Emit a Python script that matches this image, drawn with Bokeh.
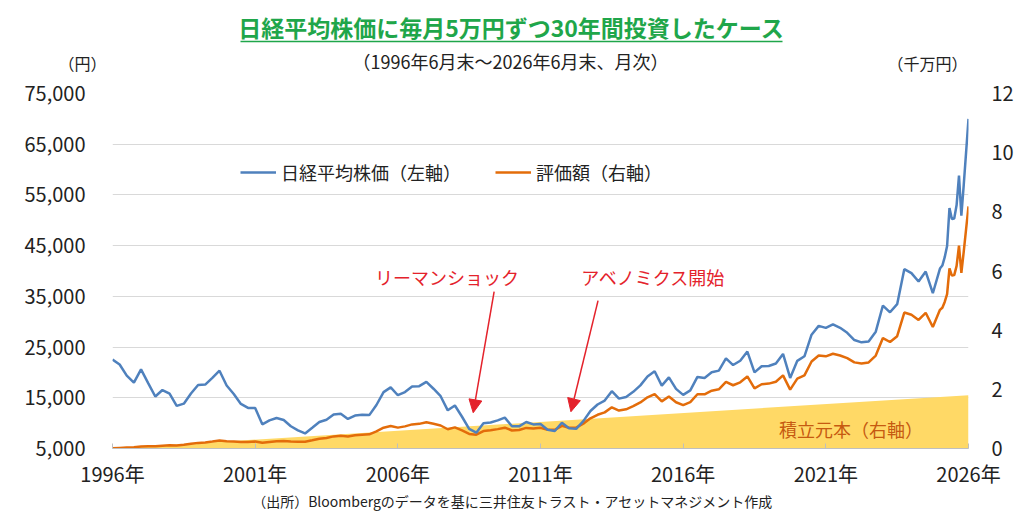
from bokeh.plotting import figure
from bokeh.layouts import column
from bokeh.models import (Range1d, LinearAxis, Legend, LegendItem, Label, Arrow,
                          NormalHead, FixedTicker, NumeralTickFormatter)
from bokeh.embed import file_html
from bokeh.resources import INLINE

FONT = "Noto Sans CJK JP"

# months after end of June 1996 (quarterly, then monthly for the last year)
months = list(range(0, 349, 3)) + list(range(349, 361))

# Nikkei 225 month-end (yen), left axis
nikkei = [22530, 21556, 19361, 18003, 20605, 17888, 15259, 16527, 15830, 13406,
          13842, 15837, 17530, 17605, 18934, 20337, 17411, 15747, 13786, 12999,
          12969, 9775, 10543, 11025, 10622, 9383, 8579, 7973, 9083, 10219,
          10677, 11715, 11858, 10824, 11489, 11669, 11584, 13574, 16111, 17059,
          15505, 16128, 17226, 17288, 18138, 16786, 15308, 12526, 13481, 11260,
          8860, 8110, 9958, 10133, 10546, 11090, 9383, 9369, 10229, 9755,
          9816, 8700, 8455, 10084, 9007, 8870, 10395, 12398, 13677, 14456,
          16291, 14828, 15162, 16174, 17451, 19207, 20236, 17388, 19034, 16759,
          15576, 16450, 19114, 18909, 20033, 20356, 22765, 21454, 22305, 24120,
          20015, 21206, 21276, 21756, 23657, 18917, 22288, 23185, 27444, 29179,
          28792, 29453, 28792, 27821, 26393, 25937, 26095, 28041, 33189, 31858,
          33464, 40369, 39583, 37920, 39895, 35618, 40487,
          41070, 42718, 44933, 52411, 50253, 50339, 53000, 58800, 50900, 57000, 63500, 70000]

# portfolio value (10 million yen), right axis
valuation = [0.005, 0.019, 0.032, 0.044, 0.066, 0.072, 0.075, 0.097, 0.107, 0.105,
             0.123, 0.157, 0.190, 0.205, 0.236, 0.269, 0.245, 0.235, 0.220, 0.222,
             0.237, 0.191, 0.222, 0.247, 0.253, 0.238, 0.232, 0.230, 0.278, 0.328,
             0.358, 0.409, 0.429, 0.406, 0.446, 0.468, 0.480, 0.578, 0.703, 0.759,
             0.705, 0.748, 0.815, 0.833, 0.889, 0.837, 0.778, 0.650, 0.715, 0.611,
             0.494, 0.466, 0.589, 0.615, 0.655, 0.704, 0.609, 0.624, 0.696, 0.679,
             0.698, 0.633, 0.630, 0.767, 0.700, 0.704, 0.841, 1.019, 1.140, 1.221,
             1.392, 1.281, 1.325, 1.429, 1.557, 1.730, 1.838, 1.593, 1.759, 1.563,
             1.467, 1.565, 1.835, 1.830, 1.954, 2.001, 2.253, 2.138, 2.238, 2.436,
             2.035, 2.171, 2.194, 2.258, 2.471, 1.989, 2.360, 2.470, 2.940, 3.142,
             3.115, 3.202, 3.145, 3.053, 2.911, 2.876, 2.908, 3.141, 3.734, 3.599,
             3.795, 4.595, 4.520, 4.345, 4.587, 4.109, 4.687,
             4.759, 4.955, 5.217, 6.091, 5.845, 5.860, 6.175, 6.855, 5.939, 6.656, 7.420, 8.185]

# accumulated principal (10 million yen), right axis
principal_months = [0, 360]
principal = [0.0, 1.8]

year_ticks = [0, 60, 120, 180, 240, 300, 360]
year_labels = ["1996年", "2001年", "2006年", "2011年", "2016年", "2021年", "2026年"]
left_ticks = [5000, 15000, 25000, 35000, 45000, 55000, 65000, 75000]
right_ticks = [0, 2, 4, 6, 8, 10, 12]

BLUE = "#4F81BD"
ORANGE = "#E36C0A"
YELLOW = "#FFD966"
RED = "#E4222B"
GREEN = "#1FA64A"
TEXT = "#222222"
W = 1016
LEFT, RIGHT = 112, 48   # border widths, so the frame runs from x=112 to x=968


def strip(height):
    # text strip above/below the chart; data units are page pixels
    f = figure(width=W, height=height, output_backend="svg", toolbar_location=None,
               x_range=Range1d(LEFT, W - RIGHT), y_range=Range1d(height, 0),
               min_border_left=LEFT, min_border_right=RIGHT, min_border_top=0, min_border_bottom=0,
               x_axis_type=None, y_axis_type=None)
    f.outline_line_color = None
    f.grid.visible = False
    return f


def add_text(fig, x, y, text, size, color=TEXT, style="normal", align="center"):
    fig.add_layout(Label(x=x, y=y, text=text, text_align=align, text_baseline="middle",
                         text_font=FONT, text_font_size=size, text_color=color,
                         text_font_style=style))


# header
head = strip(78)
add_text(head, 511, 26, "日経平均株価に毎月5万円ずつ30年間投資したケース", "23px", GREEN, "bold")
head.segment(x0=[240], y0=[41], x1=[782], y1=[41], line_color=GREEN, line_width=1.5)
add_text(head, 510, 60, "（1996年6月末～2026年6月末、月次）", "18px")
add_text(head, 967, 62, "（千万円）", "16px", align="right")
unit_axis = LinearAxis(ticker=FixedTicker(ticks=[62]), major_label_overrides={62: "（円）"},
                       axis_line_color=None, major_tick_line_color=None, minor_tick_line_color=None,
                       major_label_standoff=0, major_label_text_font=FONT,
                       major_label_text_font_size="16px", major_label_text_color=TEXT)
head.add_layout(unit_axis, "left")

# main chart
p = figure(width=W, height=412, output_backend="svg", toolbar_location=None,
           x_range=Range1d(0, 360), y_range=Range1d(5000, 75000),
           min_border_left=LEFT, min_border_right=RIGHT, min_border_top=15, min_border_bottom=42)
p.extra_y_ranges = {"right": Range1d(0, 12)}
p.outline_line_color = None
p.xgrid.visible = False
p.ygrid.grid_line_color = "#D9D9D9"

p.varea(x=principal_months, y1=0, y2=principal, fill_color=YELLOW, y_range_name="right")
r_val = p.line(months, valuation, line_color=ORANGE, line_width=2.5, y_range_name="right")
r_nk = p.line(months, nikkei, line_color=BLUE, line_width=2.5)

xa = p.xaxis[0]
xa.ticker = FixedTicker(ticks=year_ticks)
xa.major_label_overrides = {t: s for t, s in zip(year_ticks, year_labels)}
xa.axis_line_color = "#BFBFBF"
xa.major_tick_line_color = "#BFBFBF"
xa.major_tick_in = 5
xa.major_tick_out = 0
xa.minor_tick_line_color = None
xa.major_label_standoff = 10

ya = p.yaxis[0]
ya.ticker = FixedTicker(ticks=left_ticks)
ya.formatter = NumeralTickFormatter(format="0,0")
ya.major_label_standoff = 21

ra = LinearAxis(y_range_name="right", ticker=FixedTicker(ticks=right_ticks))
ra.major_label_standoff = 17
p.add_layout(ra, "right")

for ax in (ya, ra):
    ax.axis_line_color = None
    ax.major_tick_line_color = None
    ax.minor_tick_line_color = None
for ax in (xa, ya, ra):
    ax.major_label_text_font = FONT
    ax.major_label_text_font_size = "20px"
    ax.major_label_text_color = TEXT

legend = Legend(items=[LegendItem(label="日経平均株価（左軸）", renderers=[r_nk]),
                       LegendItem(label="評価額（右軸）", renderers=[r_val])],
                orientation="horizontal", location=(128, 263),
                glyph_width=36, glyph_height=20, label_standoff=5, spacing=34,
                padding=0, margin=0, border_line_alpha=0, background_fill_alpha=0,
                label_text_font=FONT, label_text_font_size="18px", label_text_color=TEXT)
p.add_layout(legend)

add_text(p, 140.7, 38900, "リーマンショック", "18px", RED)
add_text(p, 227.4, 38900, "アベノミクス開始", "18px", RED)
add_text(p, 310.6, 8900, "積立元本（右軸）", "18px", "#C65A11")

for xs, ys, xe, ye in [(160.5, 35950, 151.7, 12050), (204.2, 34170, 192.8, 12250)]:
    p.add_layout(Arrow(x_start=xs, y_start=ys, x_end=xe, y_end=ye, line_color=RED, line_width=1.5,
                       end=NormalHead(size=13, fill_color=RED, line_color=RED)))

# footer
foot = strip(24)
add_text(foot, 512, 10, "（出所）Bloombergのデータを基に三井住友トラスト・アセットマネジメント作成", "14px")

layout = column(head, p, foot, spacing=0)
open("out.html", "w").write(file_html(layout, INLINE))
